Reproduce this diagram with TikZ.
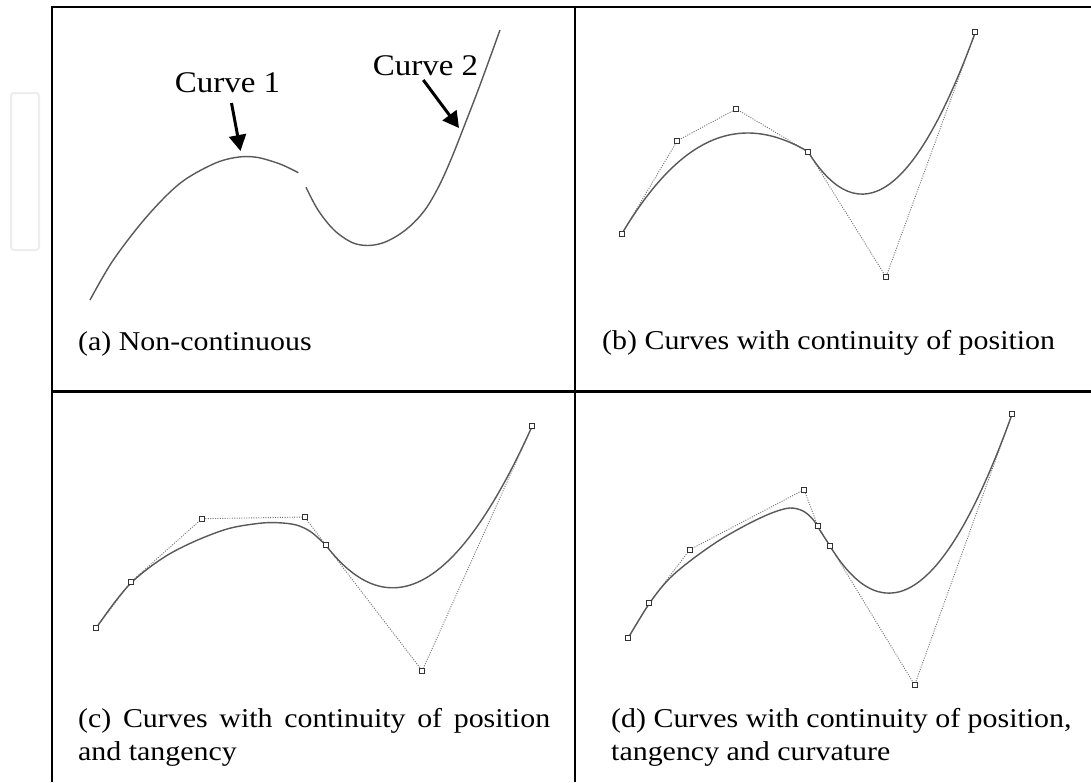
\documentclass[tikz,border=0pt]{standalone}
\usepackage{fontspec}
\setmainfont{Liberation Serif}[FakeStretch=1.1]
\usetikzlibrary{arrows.meta,calc}
\begin{document}
\begin{tikzpicture}[x=1pt,y=-1pt,
  frame/.style={line width=2.8pt},
  crv/.style={draw=black!65, line width=1.4pt},
  ctrl/.style={draw=black!55, line width=0.9pt, dash pattern=on 1pt off 1.4pt},
  mk/.style={draw=black!80, fill=white, rectangle, minimum size=5pt, inner sep=0pt, line width=0.8pt},
  lab/.style={font=\fontsize{30}{36}\selectfont, inner sep=0pt},
  captxt/.style={font=\fontsize{27.2}{33}\selectfont, inner sep=0pt},
  arr/.style={line width=3pt, -{Triangle[length=16pt,width=17pt]}}]
\useasboundingbox (0,0) rectangle (1091,782);
\fill[white] (0,0) rectangle (1091,782);

% faint artifact at the left
\draw[draw=black!7, line width=2pt, rounded corners=3pt] (11,93) rectangle (39,250);

% frame
\draw[frame] (52,7) -- (1091,7);
\draw[frame] (52,5.6) -- (52,782);
\draw[frame] (575,5.6) -- (575,782);
\draw[frame] (52,391.5) -- (1091,391.5);

% ---------- (a) ----------
\draw[crv] plot[smooth,tension=0.55] coordinates {(90,300) (113.3,260) (146.7,216.7) (180,183.3) (213.3,164) (236.7,157.3) (256.7,157.3) (280,164) (298.3,172.7)};
\draw[crv] plot[smooth,tension=0.55] coordinates {(306,187.3) (318,210) (334,230) (352,242.5) (368,245.5) (384,242.5) (400,234) (414,222.5) (427,207) (440,184) (452,157) (465,124) (480,85) (500,30)};
\node[lab, anchor=base] (l1) at (227.5,92) {Curve 1};
\node[lab, anchor=base] (l2) at (425.5,75.5) {Curve 2};
\coordinate (t1) at (231.5,103);
\coordinate (h1) at (240.5,151);
\coordinate (t2) at (423.3,80);
\coordinate (h2) at (459,128);
\draw[arr] (t1) -- (h1);
\draw[arr] (t2) -- (h2);
\node[captxt, anchor=base west] (capa) at (78,350) {(a) Non-continuous};

% ---------- (b) ----------
\coordinate (b0) at (621.7,234);
\coordinate (b1) at (677.3,140.7);
\coordinate (b2) at (736.3,109);
\coordinate (b3) at (808,151.7);
\coordinate (b4) at (886,277);
\coordinate (b5) at (975.3,32.3);
\draw[ctrl] (b0) -- (b1) -- (b2) -- (b3) -- (b4) -- (b5);
\draw[crv] (b0) .. controls (b1) and (b2) .. (b3);
\draw[crv] (b3) .. controls ($(b3)!2/3!(b4)$) and ($(b5)!2/3!(b4)$) .. (b5);
\foreach \p in {b0,b1,b2,b3,b4,b5} \node[mk] (m\p) at (\p) {};
\node[captxt, anchor=base west] (capb) at (602,349) {(b) Curves with continuity of position};

% ---------- (c) ----------
\coordinate (c0) at (96.3,627.7);
\coordinate (c1) at (131.1,581.7);
\coordinate (c2) at (201.9,518.7);
\coordinate (c3) at (304.8,517);
\coordinate (c4) at (325.9,545.3);
\coordinate (c5) at (422.2,670.7);
\coordinate (c6) at (532.2,426);
\draw[ctrl] (c0) -- (c1) -- (c2) -- (c3) -- (c4) -- (c5) -- (c6);
\draw[crv] plot[smooth,tension=0.55] coordinates {(96.3,627.7) (113,604.5) (130,584) (150,567) (172,552.5) (200,539) (229.6,528.3) (259.3,523.3) (277.8,522.7) (296.3,525) (311.1,532) (325.9,545.3)};
\draw[crv] (c4) .. controls ($(c4)!2/3!(c5)$) and ($(c6)!2/3!(c5)$) .. (c6);
\foreach \p in {c0,c1,c2,c3,c4,c5,c6} \node[mk] (m\p) at (\p) {};
\node[captxt, anchor=base west] (capc1) at (78,727) {\makebox[472pt][s]{(c) Curves with continuity of position}};
\node[captxt, anchor=base west] (capc2) at (78,760) {and tangency};

% ---------- (d) ----------
\coordinate (d0) at (628.3,637.7);
\coordinate (d1) at (649,603.3);
\coordinate (d2) at (689.7,549.7);
\coordinate (d3) at (804,489.7);
\coordinate (d4) at (817.7,525.7);
\coordinate (d5) at (830,546);
\coordinate (d6) at (914.7,685);
\coordinate (d7) at (1012,414.3);
\draw[ctrl] (d0) -- (d1) -- (d2) -- (d3) -- (d4) -- (d5) -- (d6) -- (d7);
\draw[crv] plot[smooth,tension=0.55] coordinates {(628.3,637.7) (649,604) (668,580) (690,561) (719,540.5) (749,523.5) (773,512.5) (790,508) (803,511) (813,519.5) (821,532) (830,546)};
\draw[crv] (d5) .. controls ($(d5)!2/3!(d6)$) and ($(d7)!2/3!(d6)$) .. (d7);
\foreach \p in {d0,d1,d2,d3,d4,d5,d6,d7} \node[mk] (m\p) at (\p) {};
\node[captxt, anchor=base west] (capd1) at (611,727) {(d) Curves with continuity of position,};
\node[captxt, anchor=base west] (capd2) at (611,760) {tangency and curvature};
\end{tikzpicture}
\end{document}
